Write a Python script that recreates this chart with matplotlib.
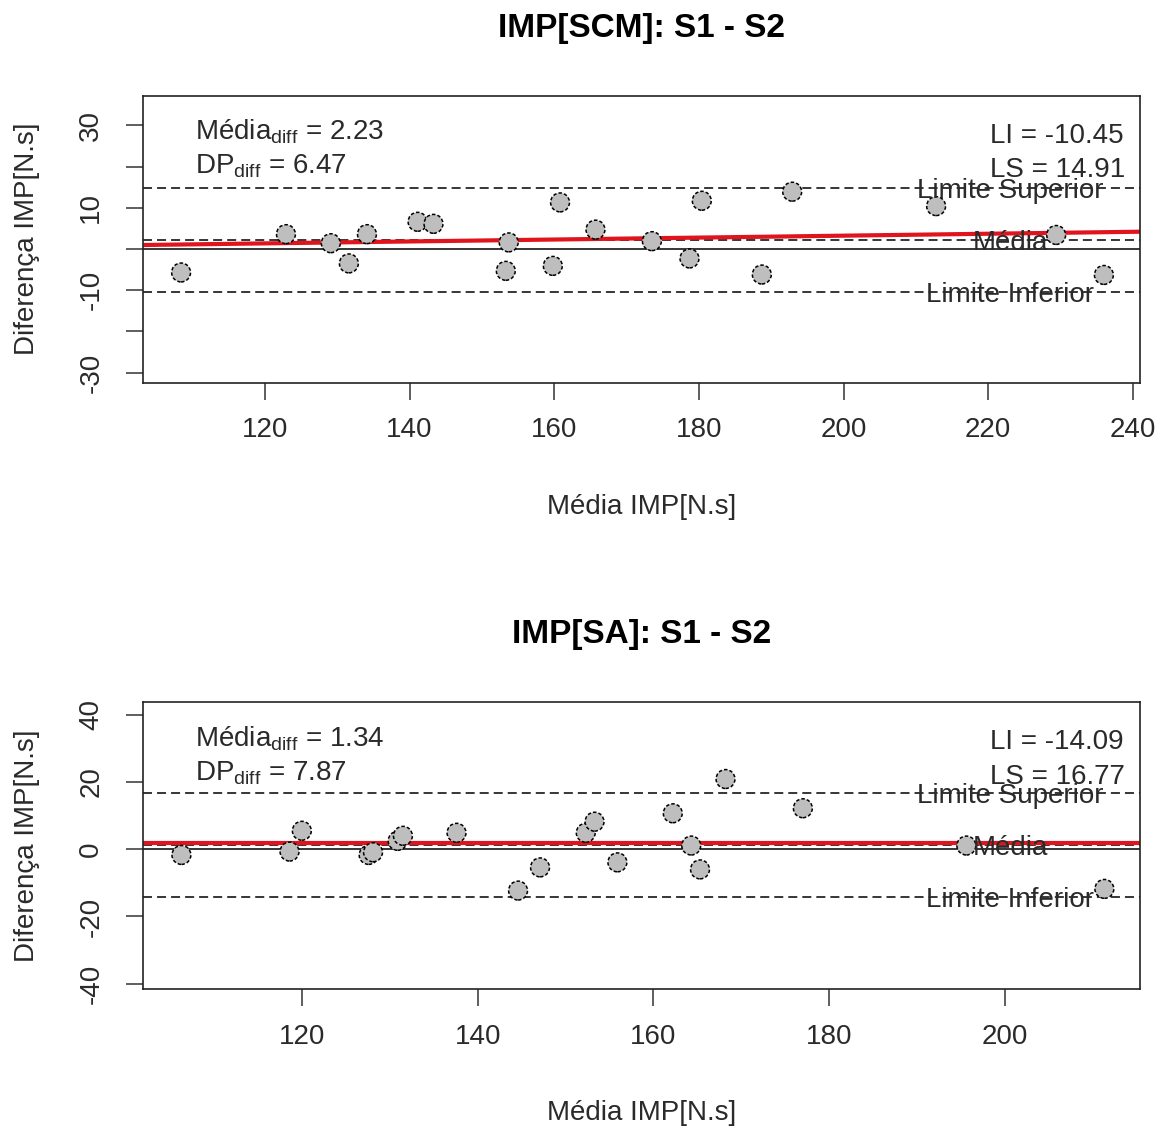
import numpy as np
import matplotlib
matplotlib.use("Agg")
import matplotlib.pyplot as plt
import matplotlib.transforms as mtransforms

plt.rcParams['font.family'] = ['Liberation Sans', 'DejaVu Sans']
plt.rcParams['mathtext.fontset'] = 'custom'
plt.rcParams['mathtext.rm'] = 'Liberation Sans'
plt.rcParams['mathtext.it'] = 'Liberation Sans:italic'
plt.rcParams['mathtext.bf'] = 'Liberation Sans:bold'
plt.rcParams['lines.scale_dashes'] = False

# ---- IMP[SCM]: S1 - S2 ----
scm_mean = [108.4, 122.9, 129.1, 131.6, 134.1, 141.1, 143.3, 153.7, 153.3, 159.8,
            160.8, 165.7, 173.5, 178.7, 180.4, 188.7, 192.9, 212.8, 229.4, 236.0]
scm_diff = [-5.7, 3.6, 1.4, -3.5, 3.6, 6.6, 6.1, 1.6, -5.3, -4.1,
            11.3, 4.7, 1.9, -2.3, 11.7, -6.2, 13.9, 10.4, 3.4, -6.3]
scm_stats = {'media': 2.23, 'dp': 6.47, 'li': -10.45, 'ls': 14.91}
scm_trend = (-1.45, 0.0234)   # intercept, slope

# ---- IMP[SA]: S1 - S2 ----
sa_mean = [106.3, 118.6, 120.0, 127.6, 128.1, 130.9, 131.5, 137.6, 144.6, 147.1,
           152.3, 153.3, 155.9, 162.2, 164.3, 165.3, 168.2, 177.0, 195.6, 211.3]
sa_diff = [-1.7, -0.7, 5.5, -1.7, -0.9, 2.5, 4.0, 4.9, -12.3, -5.4,
           4.9, 8.2, -3.9, 10.7, 1.1, -6.0, 20.9, 12.2, 1.1, -11.8]
sa_stats = {'media': 1.34, 'dp': 7.87, 'li': -14.09, 'ls': 16.77}
sa_trend = (1.8, 0.0)

panels = [
    dict(title='IMP[SCM]: S1 - S2', x=scm_mean, y=scm_diff, st=scm_stats, tr=scm_trend,
         xlim=(103.17, 241.0), ylim=(-32.45, 37.2), xticks=[120, 140, 160, 180, 200, 220, 240],
         yticks=[-30, -20, -10, 0, 10, 20, 30], ylabels=['-30', '', '-10', '', '10', '', '30'],
         rect=[0.1235, 0.6607, 0.8593, 0.2545]),
    dict(title='IMP[SA]: S1 - S2', x=sa_mean, y=sa_diff, st=sa_stats, tr=sa_trend,
         xlim=(101.96, 215.36), ylim=(-41.6, 43.9), xticks=[120, 140, 160, 180, 200],
         yticks=[-40, -20, 0, 20, 40], ylabels=['-40', '-20', '0', '20', '40'],
         rect=[0.1235, 0.1232, 0.8593, 0.2547]),
]

TXT = '#2a2a2a'
FS = 20
DASH = (0, (6.5, 3.6))

fig = plt.figure(figsize=(11.6, 11.28), dpi=100)

for p in panels:
    ax = fig.add_axes(p['rect'])
    ax.set_xlim(*p['xlim'])
    ax.set_ylim(*p['ylim'])
    st = p['st']

    # reference lines
    ax.axhline(0, color='black', lw=1.1, zorder=1)
    for v in (st['ls'], st['media'], st['li']):
        ax.axhline(v, color='black', lw=1.1, linestyle=DASH, zorder=1)

    # regression line across the panel
    b0, b1 = p['tr']
    xs = np.array(p['xlim'])
    ax.plot(xs, b0 + b1 * xs, color='#E0141C', lw=3, zorder=2, solid_capstyle='butt')

    # points
    ax.scatter(p['x'], p['y'], s=185, facecolor='#BEBEBE', edgecolor='black',
               linewidths=1.1, linestyle=(0, (2.5, 1.5)), zorder=3)

    # line labels
    trans = mtransforms.blended_transform_factory(ax.transAxes, ax.transData)
    for v, lab in ((st['ls'], 'Limite Superior'), (st['media'], 'Média'),
                   (st['li'], 'Limite Inferior')):
        ax.annotate(lab, xy=(0.8696, v), xycoords=trans, xytext=(0, -7.2),
                    textcoords='offset points', ha='center', va='baseline',
                    fontsize=FS, color=TXT, zorder=4)

    # statistics text
    ax.text(0.052, 0.8457, r'Média$_{\mathrm{diff}}$ = %.2f' % st['media'],
            transform=ax.transAxes, fontsize=FS, color=TXT, ha='left', va='baseline')
    ax.text(0.052, 0.7272, r'DP$_{\mathrm{diff}}$ = %.2f' % st['dp'],
            transform=ax.transAxes, fontsize=FS, color=TXT, ha='left', va='baseline')
    ax.text(0.8495, 0.836, 'LI = %.2f' % st['li'],
            transform=ax.transAxes, fontsize=FS, color=TXT, ha='left', va='baseline')
    ax.text(0.8495, 0.715, 'LS = %.2f' % st['ls'],
            transform=ax.transAxes, fontsize=FS, color=TXT, ha='left', va='baseline')

    # axes styling
    ax.set_xticks(p['xticks'])
    ax.set_xticklabels([str(t) for t in p['xticks']])
    ax.set_yticks(p['yticks'])
    ax.set_yticklabels(p['ylabels'], rotation=90, va='center')
    ax.tick_params(axis='both', direction='out', length=12, width=1.1, color='#333333',
                   labelsize=FS, labelcolor=TXT)
    ax.tick_params(axis='x', pad=13)
    ax.tick_params(axis='y', pad=16)
    for sp in ax.spines.values():
        sp.set_linewidth(1.2)
        sp.set_color('#222222')

    ax.set_xlabel('Média IMP[N.s]', fontsize=FS, color=TXT)
    ax.xaxis.set_label_coords(0.5, -0.432)
    ax.xaxis.label.set_va('center')
    ax.set_ylabel('Diferença IMP[N.s]', fontsize=FS, color=TXT)
    ax.yaxis.set_label_coords(-0.1164, 0.5)
    ax.yaxis.label.set_va('center')

    ax.text(0.5, 1.233, p['title'], transform=ax.transAxes, ha='center', va='center',
            fontsize=24, fontweight='bold', color='black')

fig.savefig('out.png', dpi=100, facecolor='white')
